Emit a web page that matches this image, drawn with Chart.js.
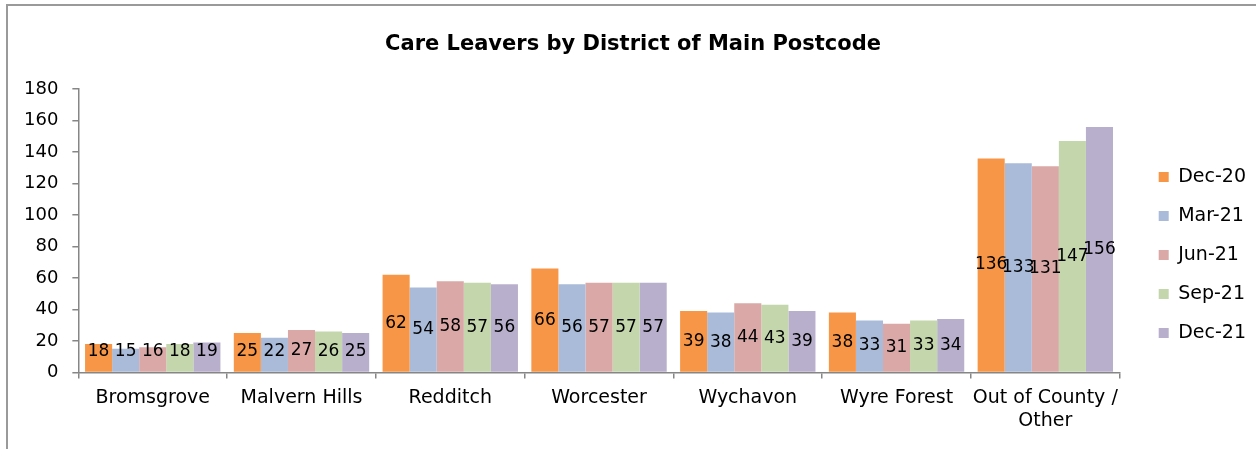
<!DOCTYPE html>
<html>
<head>
<meta charset="utf-8">
<script src="https://cdn.jsdelivr.net/npm/chart.js@4.4.1/dist/chart.umd.min.js"></script>
<style>
  body { margin: 0; background: #fff; overflow: hidden; }
  #wrap { position: relative; width: 1256px; height: 449px; }
  #frame { position: absolute; left: 6px; top: 4px; width: 1300px; height: 500px;
           border-top: 2px solid #9a9a9a; border-left: 2px solid #9a9a9a; }
  #myChart { position: absolute; left: 0; top: 0; }
</style>
</head>
<body>
<div id="wrap">
  <div id="frame"></div>
  <canvas id="myChart" width="1256" height="449"></canvas>
</div>
<script>
var districts = ['Bromsgrove', 'Malvern Hills', 'Redditch', 'Worcester', 'Wychavon', 'Wyre Forest', ['Out of County /', 'Other']];
var dec20 = [18, 25, 62, 66, 39, 38, 136];
var mar21 = [15, 22, 54, 56, 38, 33, 133];
var jun21 = [16, 27, 58, 57, 44, 31, 131];
var sep21 = [18, 26, 57, 57, 43, 33, 147];
var dec21 = [19, 25, 56, 57, 39, 34, 156];

Chart.defaults.font.family = "'DejaVu Sans', sans-serif";
Chart.defaults.color = '#000';

// value labels in the middle of each bar
var barLabels = {
    id: 'barLabels',
    afterDatasetsDraw: function(chart) {
        var ctx = chart.ctx;
        ctx.save();
        ctx.font = "17px 'DejaVu Sans'";
        ctx.fillStyle = '#000';
        ctx.textAlign = 'center';
        ctx.textBaseline = 'middle';
        chart.data.datasets.forEach(function(ds, i) {
            chart.getDatasetMeta(i).data.forEach(function(bar, j) {
                var y = Math.min((bar.y + bar.base) / 2, bar.base - 20);
                ctx.fillText(ds.data[j], bar.x, y);
            });
        });
        ctx.restore();
    }
};

var ctx = document.getElementById('myChart').getContext('2d');
var myChart = new Chart(ctx, {
    type: 'bar',
    data: {
        labels: districts,
        datasets: [
            { label: 'Dec-20', data: dec20, backgroundColor: '#F79646' },
            { label: 'Mar-21', data: mar21, backgroundColor: '#A9BBD9' },
            { label: 'Jun-21', data: jun21, backgroundColor: '#D9A8A7' },
            { label: 'Sep-21', data: sep21, backgroundColor: '#C4D6AC' },
            { label: 'Dec-21', data: dec21, backgroundColor: '#B8AFCC' }
        ]
    },
    options: {
        responsive: false,
        animation: false,
        datasets: {
            bar: {
                categoryPercentage: 0.91,
                barPercentage: 1.0,
                borderWidth: 0
            }
        },
        layout: { padding: { left: 10, right: 0, top: 10, bottom: 9 } },
        scales: {
            x: {
                grid: { drawOnChartArea: false, tickLength: 6, color: '#868686', lineWidth: 1.5 },
                border: { color: '#868686', width: 1.5 },
                ticks: { padding: 8, font: { size: 19, lineHeight: 1.2 }, maxRotation: 0, autoSkip: false }
            },
            y: {
                min: 0,
                max: 180,
                ticks: { stepSize: 20, padding: 14, font: { size: 18 } },
                grid: { drawOnChartArea: false, tickLength: 6, color: '#868686', lineWidth: 1.5 },
                border: { color: '#868686', width: 1.5 }
            },
            gap: {
                position: 'right',
                grid: { display: false },
                border: { display: false },
                ticks: { display: false },
                afterFit: function(scale) { scale.width = 19; }
            }
        },
        plugins: {
            title: {
                display: true,
                text: 'Care Leavers by District of Main Postcode',
                font: { size: 21, weight: 'bold' },
                padding: { top: 22, bottom: 32 }
            },
            legend: {
                position: 'right',
                fullSize: false,
                title: { display: true, text: '', padding: { top: 34, bottom: 0 } },
                labels: { boxWidth: 10, boxHeight: 10, padding: 20, font: { size: 19 } }
            },
            tooltip: { enabled: false }
        }
    },
    plugins: [barLabels]
});
</script>
</body>
</html>
